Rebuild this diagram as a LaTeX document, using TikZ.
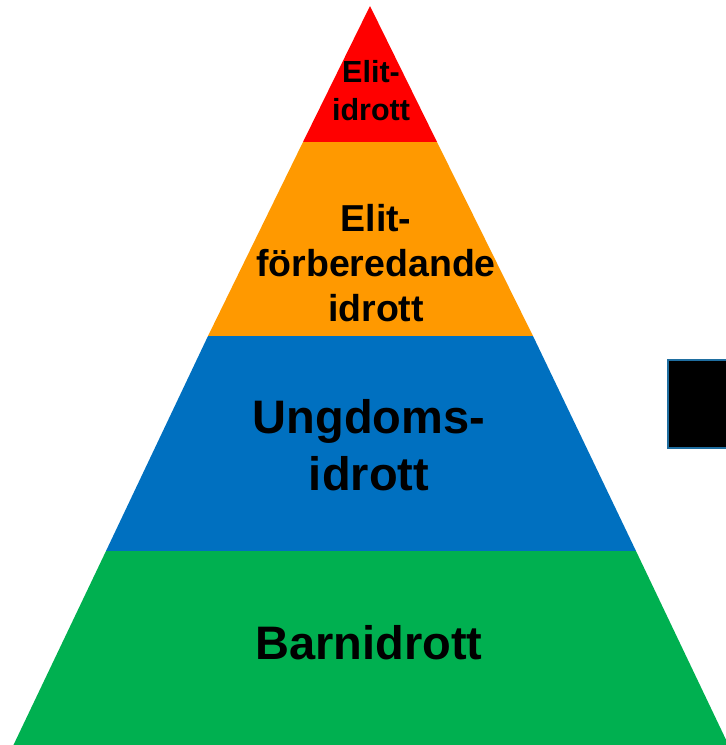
\documentclass[tikz,border=0pt]{standalone}
\usepackage{fontspec}
\setmainfont{Liberation Sans}

\definecolor{elitred}{RGB}{255,0,0}
\definecolor{preporange}{RGB}{255,153,0}
\definecolor{youthblue}{RGB}{0,112,192}
\definecolor{kidsgreen}{RGB}{0,176,80}
\definecolor{boxedge}{RGB}{31,110,160}

\begin{document}
\begin{tikzpicture}[x=1pt,y=-1pt,
  levtext/.style={align=center,inner sep=0pt,text=black}]

\useasboundingbox (0,0) rectangle (726,745);

% the four levels of the pyramid
\fill [elitred]    (370,6)   -- (437,142) -- (303,142) -- cycle;
\fill [preporange] (303,142) -- (437,142) -- (533,336) -- (208,336) -- cycle;
\fill [youthblue]  (208,336) -- (533,336) -- (636,551) -- (106,551) -- cycle;
\fill [kidsgreen]  (106,551) -- (636,551) -- (729,746) -- (13,746) -- cycle;

\node [levtext, font=\fontsize{30.5}{38}\selectfont\bfseries] (elit) at (371,91)  {Elit-\\idrott};
\node [levtext, font=\fontsize{37.5}{45}\selectfont\bfseries] (prep) at (376,263) {Elit-\\förberedande\\idrott};
\node [levtext, font=\fontsize{47}{57}\selectfont\bfseries] (youth) at (369,445) {Ungdoms-\\idrott};
\node [levtext, font=\fontsize{47}{57}\selectfont\bfseries] (kids) at (369,643) {Barnidrott};

% box at the right edge
\filldraw [fill=black, draw=boxedge, line width=2pt] (668,360) rectangle (740,448);

\end{tikzpicture}
\end{document}
